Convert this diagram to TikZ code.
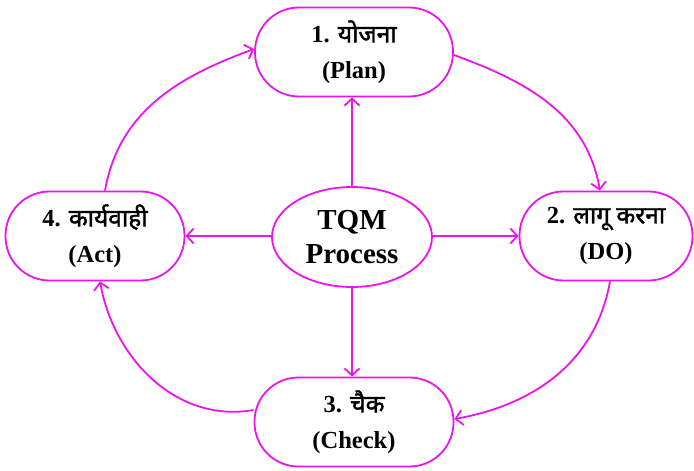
\documentclass[tikz,border=0pt]{standalone}
\usepackage{fontspec}
\setmainfont{Liberation Serif}
\newfontfamily\dev[Script=Devanagari,FakeBold=1.6]{Noto Sans}
\usetikzlibrary{arrows.meta,shapes.geometric}
\definecolor{mag}{RGB}{235,20,235}
\tikzset{
  stagebox/.style={draw=mag, line width=1.8pt, rounded corners=44pt, minimum height=89pt, align=center, font=\fontsize{24.5}{36}\selectfont\bfseries, inner sep=0pt},
  centre/.style={draw=mag, line width=1.8pt, ellipse, minimum width=160pt, minimum height=100pt, align=center, font=\fontsize{29}{34}\selectfont\bfseries, inner sep=0pt},
  conn/.style={draw=mag, line width=1.8pt, -{Straight Barb[length=7pt,width=15pt,line width=1.8pt]}}
}
\begin{document}
\begin{tikzpicture}[x=1pt,y=1pt]
\useasboundingbox (0,0) rectangle (694,471);
\node[stagebox, minimum width=198pt] (plan) at (354,419) {1. {\dev योजना}\\(Plan)};
\node[stagebox, minimum width=179pt] (act) at (95,235) {4. {\dev कार्यवाही}\\(Act)};
\node[stagebox, minimum width=173pt] (do) at (606,235) {2. {\dev लागू करना}\\(DO)};
\node[stagebox, minimum width=199pt] (check) at (354,49) {3. {\dev चैक}\\(Check)};
\node[centre] (tqm) at (352,234) {TQM\\Process};
\draw[conn] (tqm.north) -- (tqm.north |- plan.south);
\draw[conn] (tqm.south) -- (tqm.south |- check.north);
\draw[conn] (tqm.east |- do.west) -- (do.west);
\draw[conn] (tqm.west |- act.east) -- (act.east);
\draw[conn] ([xshift=10pt]act.north) to[out=80,in=200] ([yshift=3pt]plan.west);
\draw[conn] ([yshift=-3pt]plan.east) to[out=-20,in=100] ([xshift=-6pt]do.north);
\draw[conn] ([xshift=4pt]do.south) to[out=-100,in=10] ([yshift=3pt]check.east);
\draw[conn] ([yshift=12pt]check.west) to[out=190,in=-80] ([xshift=5pt]act.south);
\end{tikzpicture}
\end{document}
